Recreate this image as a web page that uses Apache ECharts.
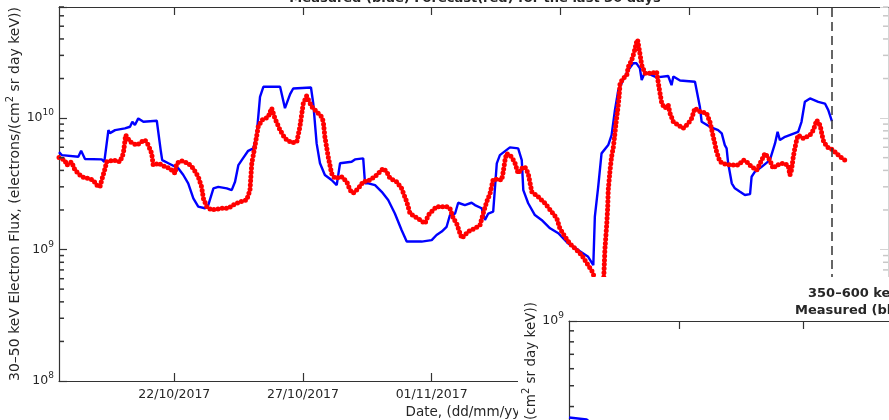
<!DOCTYPE html>
<html>
<head>
<meta charset="utf-8">
<script src="https://cdn.jsdelivr.net/npm/echarts@6/dist/echarts.min.js"></script>
<style>
html, body { margin: 0; padding: 0; background: #fff; }
#chart { width: 889px; height: 420px; }
</style>
</head>
<body>
<div id="chart"></div>
<script>
// x values are October day numbers (32 = 01/11/2017)
var dayTicks = [22, 27, 32, 37, 42, 47];
var dayTickLabels = ['22/10/2017', '27/10/2017', '01/11/2017', '06/11/2017', '11/11/2017', '16/11/2017'];
var fluxTicks = [1e8, 1e9, 1e10];
var nowDay = 47.54; // dashed line, last measurement

// 30-50 keV measured flux (blue), units of 1e9
var measuredDays = [17.52, 17.63, 18.27, 18.38, 18.53, 19.18, 19.28, 19.44, 19.50, 19.70, 20.08, 20.28, 20.37, 20.47, 20.60, 20.80,
    21.32, 21.48, 21.53, 21.77, 22.16, 22.35, 22.54, 22.74, 22.93, 23.19, 23.32, 23.52, 23.71, 24.04, 24.23, 24.36, 24.49, 24.62,
    24.87, 25.07, 25.20, 25.33, 25.46, 26.11, 26.30, 26.37, 26.50, 26.62, 27.31, 27.40, 27.53, 27.66, 27.85, 28.11, 28.31, 28.44,
    28.89, 29.02, 29.34, 29.41, 29.54, 29.80, 30.06, 30.31, 30.57, 30.83, 31.03, 31.61, 32.00, 32.19, 32.39, 32.58, 32.71, 32.91,
    33.03, 33.29, 33.55, 33.68, 33.94, 34.07, 34.20, 34.39, 34.53, 34.65, 35.04, 35.36, 35.50, 35.56, 35.75, 36.01, 36.27, 36.60,
    36.92, 37.31, 37.70, 38.08, 38.28, 38.34, 38.47, 38.60, 38.86, 38.99, 39.12, 39.25, 39.44, 39.64, 39.83, 39.96, 40.09, 40.16,
    40.29, 40.74, 41.19, 41.32, 41.39, 41.65, 42.23, 42.42, 42.49, 42.81, 43.13, 43.27, 43.39, 43.46, 43.52, 43.66, 43.78, 43.98,
    44.17, 44.37, 44.43, 44.56, 44.82, 45.14, 45.34, 45.44, 45.53, 45.73, 46.24, 46.37, 46.50, 46.70, 47.02, 47.28, 47.41, 47.55];
var measuredFlux = [5.51, 5.23, 5.08, 5.64, 4.88, 4.85, 4.65, 8.10, 7.69, 8.10, 8.35, 8.59, 9.37, 8.85, 9.95, 9.37,
    9.54, 5.54, 4.79, 4.53, 4.14, 3.69, 3.19, 2.45, 2.12, 2.06, 2.18, 2.92, 3.00, 2.92, 2.83, 3.28, 4.39, 4.79,
    5.64, 5.88, 7.43, 14.5, 17.3, 17.3, 11.9, 11.5, 15.2, 16.8, 17.1, 12.9, 6.42, 4.53, 3.69, 3.38, 3.09, 4.53,
    4.65, 4.85, 4.94, 3.19, 3.19, 3.09, 2.75, 2.38, 1.88, 1.41, 1.15, 1.15, 1.18, 1.29, 1.37, 1.49, 1.83, 1.88,
    2.27, 2.18, 2.27, 2.18, 2.06, 1.68, 1.88, 1.94, 4.53, 5.23, 5.99, 5.88, 4.79, 2.83, 2.25, 1.83, 1.68, 1.45,
    1.33, 1.11, 0.99, 0.88, 0.76, 1.78, 3.00, 5.39, 6.23, 7.43, 11.5, 16.3, 19.5, 23.2, 26.1, 26.1, 23.9, 19.5,
    22.4, 20.4, 20.9, 17.8, 20.7, 19.3, 18.9, 12.2, 9.37, 8.59, 8.10, 7.65, 6.23, 5.88, 4.53, 3.19, 2.92, 2.75,
    2.60, 2.64, 3.58, 3.91, 4.26, 4.79, 6.42, 7.87, 6.80, 7.21, 7.87, 9.37, 13.3, 14.1, 13.3, 12.9, 11.5, 9.49];

// 30-50 keV forecast flux (red), units of 1e9
var forecastDays = [17.52, 17.75, 17.82, 18.01, 18.14, 18.40, 18.66, 18.85, 18.99, 19.11, 19.18, 19.31, 19.37, 19.63, 19.89, 20.02,
    20.11, 20.28, 20.54, 20.73, 20.86, 20.99, 21.12, 21.18, 21.38, 21.64, 21.83, 22.03, 22.09, 22.29, 22.54, 22.74, 22.93, 23.06,
    23.13, 23.26, 23.45, 23.84, 24.10, 24.29, 24.55, 24.81, 24.94, 25.01, 25.14, 25.26, 25.40, 25.65, 25.78, 25.91, 26.11, 26.30,
    26.56, 26.76, 26.88, 27.01, 27.14, 27.34, 27.53, 27.73, 27.79, 27.85, 27.98, 28.11, 28.24, 28.50, 28.70, 28.83, 28.95, 29.15,
    29.34, 29.60, 29.86, 30.12, 30.25, 30.38, 30.64, 30.83, 31.03, 31.16, 31.35, 31.55, 31.74, 31.87, 32.06, 32.19, 32.58, 32.71,
    32.84, 32.97, 33.10, 33.17, 33.42, 33.68, 33.88, 34.00, 34.14, 34.27, 34.39, 34.59, 34.72, 34.78, 34.85, 34.91, 35.11, 35.24,
    35.36, 35.50, 35.62, 35.75, 35.89, 36.14, 36.40, 36.66, 36.86, 36.98, 37.18, 37.37, 37.57, 37.83, 38.08, 38.28, 38.43, 38.68,
    38.73, 38.80, 38.84, 38.86, 38.93, 38.99, 39.06, 39.12, 39.16, 39.21, 39.25, 39.28, 39.32, 39.44, 39.58, 39.64, 39.77, 39.87,
    39.96, 40.00, 40.09, 40.16, 40.29, 40.55, 40.74, 40.83, 40.94, 41.06, 41.19, 41.26, 41.39, 41.58, 41.77, 41.97, 42.10, 42.23,
    42.42, 42.68, 42.81, 42.87, 42.94, 43.00, 43.07, 43.20, 43.39, 43.66, 43.91, 44.11, 44.24, 44.43, 44.63, 44.82, 44.95, 45.14,
    45.27, 45.40, 45.66, 45.85, 45.92, 45.98, 46.05, 46.11, 46.18, 46.24, 46.44, 46.70, 46.83, 46.96, 47.09, 47.21, 47.35, 47.60,
    47.80, 47.95, 48.06];
var forecastFlux = [5.02, 4.79, 4.39, 4.65, 4.02, 3.58, 3.48, 3.38, 3.09, 3.00, 3.38, 4.14, 4.65, 4.79, 4.65, 5.39,
    7.43, 6.60, 6.23, 6.60, 6.80, 6.23, 5.39, 4.39, 4.53, 4.26, 4.14, 3.80, 4.53, 4.73, 4.53, 4.14, 3.58, 3.00,
    2.45, 2.12, 2.00, 2.06, 2.06, 2.18, 2.31, 2.38, 2.83, 4.53, 6.23, 8.59, 9.65, 10.2, 11.9, 9.95, 8.10, 7.01,
    6.49, 6.60, 8.59, 12.9, 14.7, 12.2, 11.2, 10.2, 9.37, 7.21, 5.08, 3.80, 3.48, 3.58, 3.28, 2.83, 2.68, 2.92,
    3.28, 3.38, 3.69, 4.14, 3.91, 3.48, 3.28, 2.92, 2.31, 1.88, 1.78, 1.68, 1.58, 1.83, 2.00, 2.12, 2.12, 2.06,
    1.73, 1.58, 1.33, 1.22, 1.37, 1.45, 1.54, 1.88, 2.31, 2.68, 3.42, 3.42, 3.38, 3.91, 4.79, 5.39, 5.08, 4.53,
    3.80, 4.14, 4.26, 3.80, 2.75, 2.52, 2.25, 1.94, 1.73, 1.45, 1.25, 1.11, 1.02, 0.908, 0.76, 0.66, 0.41, 0.57,
    1.00, 1.54, 2.12, 2.83, 4.02, 5.08, 6.05, 7.65, 9.11, 10.9, 12.6, 14.5, 18.4, 20.0, 21.2, 24.5, 27.6, 31.9,
    37.8, 39.5, 31.0, 25.3, 21.9, 21.9, 22.5, 17.3, 12.9, 11.9, 12.6, 10.9, 9.37, 8.85, 8.35, 9.11, 9.95, 11.9,
    11.2, 10.9, 9.37, 8.35, 7.21, 6.42, 5.54, 4.65, 4.47, 4.39, 4.39, 4.79, 4.65, 4.26, 4.02, 4.79, 5.39, 4.79,
    4.14, 4.39, 4.53, 4.39, 3.69, 4.02, 5.08, 5.88, 6.80, 7.43, 7.01, 7.43, 8.10, 9.65, 8.85, 6.80, 6.05, 5.71,
    5.23, 4.94, 4.79];

// 350-600 keV panel (overlapping figure), measured, units of 1e9
var highDays = [17.56, 18.27, 19.00];
var highFlux = [0.356, 0.348, 0.30];

var FONT = 'DejaVu Sans';
var AXIS_COLOR = '#333';
var TEXT_COLOR = '#262626';
var MAIN_MAX = 7e10;

// minor log ticks (2..9 x 10^n)
var minorTicks = [];
fluxTicks.forEach(function (p) {
    for (var k = 2; k <= 9; k++) minorTicks.push(k * p);
});

function pairs(xs, ys) {
    return xs.map(function (x, i) { return [x, ys[i] * 1e9]; });
}

function dayLabel(v) {
    var i = dayTicks.indexOf(Math.round(v));
    return i < 0 ? '' : dayTickLabels[i];
}

function powLabel(v) {
    var e = Math.log(v) / Math.LN10;
    var r = Math.round(e);
    if (Math.abs(e - r) > 1e-6) return '';
    return '10{sup|' + r + '}';
}

var supRich = {
    sup: { fontSize: 9, fontFamily: FONT, color: TEXT_COLOR, padding: [0, 0, 10, 0] }
};
var nameRich = {
    sup: { fontSize: 10, fontFamily: FONT, color: TEXT_COLOR, padding: [0, 0, 10, 0] }
};

function tickAxis(opt) {
    var base = {
        axisLine: { show: true, onZero: false, lineStyle: { color: AXIS_COLOR, width: 1.2 } },
        axisTick: { show: true, inside: true, length: 8, lineStyle: { color: AXIS_COLOR, width: 1.2 } },
        axisLabel: { show: false },
        splitLine: { show: false }
    };
    for (var k in opt) base[k] = opt[k];
    return base;
}

// minor ticks drawn as short horizontal markers placed through the log axis
function minorTickSeries(xIdx, yIdx, xEdge, maxV, side, color, z) {
    var pts = minorTicks.filter(function (v) { return v <= maxV; }).map(function (v) { return [xEdge, v]; });
    return {
        type: 'scatter',
        xAxisIndex: xIdx,
        yAxisIndex: yIdx,
        data: pts,
        symbol: 'rect',
        symbolSize: [5, 1.5],
        symbolOffset: [side * 2.5, 0],
        itemStyle: { color: color, opacity: 1 },
        silent: true,
        clip: false,
        z: z
    };
}

var myChart = echarts.init(document.getElementById('chart'));

myChart.setOption({
    animation: false,
    backgroundColor: '#fff',
    grid: [
        { left: 59, top: 7, width: 829, height: 374, outerBoundsMode: 'none', containLabel: false },
        { left: 569, top: 321, width: 340, height: 215, outerBoundsMode: 'none', containLabel: false }
    ],
    xAxis: [
        tickAxis({
            type: 'value', gridIndex: 0, position: 'bottom', min: 17.52, max: 49.73,
            axisTick: { show: true, inside: true, length: 8, customValues: dayTicks, lineStyle: { color: AXIS_COLOR, width: 1.2 } },
            axisLabel: {
                show: true, customValues: dayTicks, formatter: dayLabel, margin: 7,
                fontSize: 12.5, fontFamily: FONT, color: TEXT_COLOR
            },
            name: 'Date, (dd/mm/yyyy)', nameLocation: 'middle', nameGap: 24, nameMoveOverlap: false,
            nameTextStyle: { fontSize: 13.5, fontFamily: FONT, color: TEXT_COLOR }
        }),
        tickAxis({
            type: 'value', gridIndex: 0, position: 'top', min: 17.52, max: 49.73,
            axisTick: { show: true, inside: true, length: 8, customValues: dayTicks, lineStyle: { color: AXIS_COLOR, width: 1.2 } }
        }),
        tickAxis({
            type: 'value', gridIndex: 1, position: 'top', min: 17.56, max: 31.27, z: 60,
            axisTick: { show: true, inside: true, length: 8, customValues: dayTicks, lineStyle: { color: AXIS_COLOR, width: 1.2 } }
        })
    ],
    yAxis: [
        tickAxis({
            type: 'log', logBase: 10, gridIndex: 0, position: 'left', min: 1e8, max: MAIN_MAX,
            axisLabel: {
                show: true, formatter: powLabel, margin: 5,
                fontSize: 12.5, fontFamily: FONT, color: TEXT_COLOR, rich: supRich
            },
            name: '30\u201350 keV Electron Flux, (electrons/(cm{sup|2} sr day keV))',
            nameLocation: 'middle', nameGap: 34, nameMoveOverlap: false,
            nameTextStyle: { fontSize: 14, fontFamily: FONT, color: TEXT_COLOR, rich: nameRich }
        }),
        tickAxis({
            type: 'log', logBase: 10, gridIndex: 0, position: 'right', min: 1e8, max: MAIN_MAX,
            axisLine: { show: true, onZero: false, lineStyle: { color: '#d4d4d4' } },
            axisTick: { show: true, inside: true, length: 8, lineStyle: { color: '#d4d4d4' } }
        }),
        tickAxis({
            type: 'log', logBase: 10, gridIndex: 1, position: 'left', min: 1e8, max: 1e9, z: 60,
            axisLabel: {
                show: true, formatter: powLabel, margin: 5,
                fontSize: 12.5, fontFamily: FONT, color: TEXT_COLOR, rich: supRich
            }
        })
    ],
    series: [{
        name: 'Measured',
        type: 'line',
        xAxisIndex: 0,
        yAxisIndex: 0,
        data: pairs(measuredDays, measuredFlux),
        showSymbol: false,
        lineStyle: { color: '#0000ff', width: 2.4 },
        markLine: {
            silent: true,
            symbol: ['none', 'none'],
            label: { show: false },
            lineStyle: { color: '#333', width: 1.5, type: [9, 5] },
            data: [{ xAxis: nowDay }]
        }
    }, {
        name: 'Forecast',
        type: 'line',
        xAxisIndex: 0,
        yAxisIndex: 0,
        data: pairs(forecastDays, forecastFlux),
        showSymbol: false,
        lineStyle: { color: '#ff0000', width: 5, type: [0, 4.2], cap: 'round' }
    }, {
        name: 'Measured 350-600 keV',
        type: 'line',
        xAxisIndex: 2,
        yAxisIndex: 2,
        z: 60,
        data: pairs(highDays, highFlux),
        showSymbol: false,
        lineStyle: { color: '#0000ff', width: 2.4 }
    },
    minorTickSeries(0, 0, 17.52, MAIN_MAX, 1, AXIS_COLOR, 3),
    minorTickSeries(0, 1, 49.73, MAIN_MAX, -1, '#c8c8c8', 3),
    minorTickSeries(2, 2, 17.56, 1e9, 1, AXIS_COLOR, 60)
    ],
    graphic: [{
        type: 'text',
        x: 475, y: -1, z: 5,
        style: {
            text: 'Measured (blue) Forecast(red) for the last 30 days',
            font: 'bold 13px "DejaVu Sans"', fill: TEXT_COLOR,
            align: 'center', verticalAlign: 'middle'
        }
    }, {
        type: 'rect',
        z: 50,
        shape: { x: 518, y: 277, width: 371, height: 143 },
        style: { fill: '#fff' }
    }, {
        type: 'text',
        x: 808, y: 294, z: 61,
        style: {
            text: '350\u2013600 keV Electron Flux',
            font: 'bold 13px "DejaVu Sans"', fill: TEXT_COLOR,
            align: 'left', verticalAlign: 'middle'
        }
    }, {
        type: 'text',
        x: 795, y: 311, z: 61,
        style: {
            text: 'Measured (blue) Forecast(red) for the last 30 days',
            font: 'bold 13px "DejaVu Sans"', fill: TEXT_COLOR,
            align: 'left', verticalAlign: 'middle'
        }
    }, {
        type: 'text',
        x: 531, y: 302, z: 61,
        rotation: Math.PI / 2,
        style: {
            text: '350\u2013600 keV Electron Flux, (electrons/(cm{sup|2} sr day keV))',
            font: '13.5px "DejaVu Sans"', fill: TEXT_COLOR,
            align: 'right', verticalAlign: 'middle',
            rich: nameRich
        }
    }]
});

window.onresize = function () {
    myChart.resize();
};
</script>
</body>
</html>
